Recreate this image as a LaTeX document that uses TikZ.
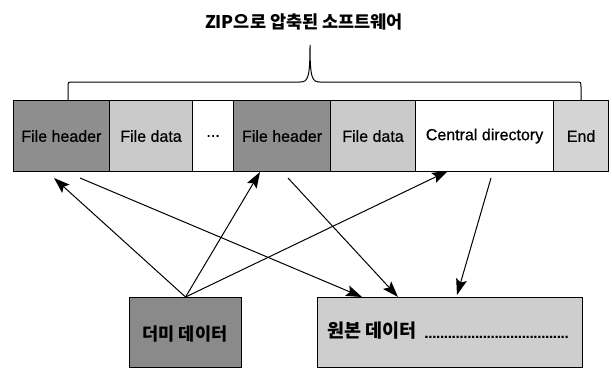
\documentclass[tikz,border=0pt]{standalone}
\usepackage{fontspec}
\setmainfont{Liberation Sans}
\newfontfamily\cellfont{Liberation Sans}[FakeBold=0.6]
\newfontfamily\kr{Noto Sans CJK KR}
\usetikzlibrary{arrows.meta,calc}
\definecolor{darkcell}{RGB}{142,142,142}
\definecolor{lightcell}{RGB}{202,202,202}
\definecolor{endcell}{RGB}{212,212,212}
\definecolor{dummyfill}{RGB}{138,138,138}
\definecolor{origfill}{RGB}{206,206,206}
\begin{document}
\begin{tikzpicture}[x=1pt,y=-1pt,
  cell/.style={draw=black,line width=1.1pt,anchor=north west,minimum height=71pt,inner sep=0pt,font=\cellfont\fontsize{16}{18}\selectfont},
  bigbox/.style={draw=black,line width=1.1pt,anchor=north west,minimum height=70pt,inner sep=0pt},
  arr/.style={line width=1pt,-{Stealth[length=16pt,width=11pt,inset=3pt]}},
  brace/.style={line width=1pt}]
\useasboundingbox (0,0) rectangle (612,369);
% title
\node (title) at (304,22) {\kr\bfseries\fontsize{17.5}{19}\selectfont ZIP으로 압축된 소프트웨어};
% cells
\node[cell,fill=darkcell,minimum width=96.3pt] (fh1) at (12.7,100) {File header};
\node[cell,fill=lightcell,minimum width=83pt] (fd1) at (109,100) {File data};
\node[cell,fill=white,minimum width=41pt] (dots) at (192,100) {...};
\node[cell,fill=darkcell,minimum width=97pt] (fh2) at (233,100) {File header};
\node[cell,fill=lightcell,minimum width=85pt] (fd2) at (330,100) {File data};
\node[cell,fill=white,minimum width=138pt] (cd) at (415,100) {Central directory};
\node[cell,fill=endcell,minimum width=55pt] (end) at (553,100) {End};
% brace
\draw[brace] (68,100) -- (68,87) .. controls (68,82) .. (73,82) -- (300,82)
  .. controls (308,82) and (310,78) .. (310,45)
  .. controls (310,78) and (312,82) .. (320,82) -- (576,82)
  .. controls (581,82) .. (581,87) -- (581,100);
% bottom boxes
\node[bigbox,fill=dummyfill,minimum width=112pt] (dummy) at (129,297) {};
\node (dlabel) at (185,334) {\kr\bfseries\fontsize{17.5}{20}\selectfont 더미 데이터};
\node[bigbox,fill=origfill,minimum width=265pt] (orig) at (317,297) {};
\node[anchor=west,inner sep=0pt] (olabel) at (327,331) {\kr\bfseries\fontsize{18.5}{20}\selectfont 원본 데이터\hspace{8pt}\cellfont\fontsize{14}{15}\selectfont .....................................};
% coordinates near bar
\coordinate (t1) at (54,178);
\coordinate (t2) at (260,172);
\coordinate (t3) at (448,171);
\coordinate (s4) at (80,178);
\coordinate (s5) at (288,178);
\coordinate (s6) at (491,178);
\coordinate (e4) at (362,297);
\coordinate (e5) at (398,297);
\coordinate (e6) at (457,295);
% arrows
\draw[arr] (dummy.north) -- (t1);
\draw[arr] (dummy.north) -- (t2);
\draw[arr] (dummy.north) -- (t3);
\draw[arr] (s4) -- (e4);
\draw[arr] (s5) -- (e5);
\draw[arr] (s6) -- (e6);
\end{tikzpicture}
\end{document}
